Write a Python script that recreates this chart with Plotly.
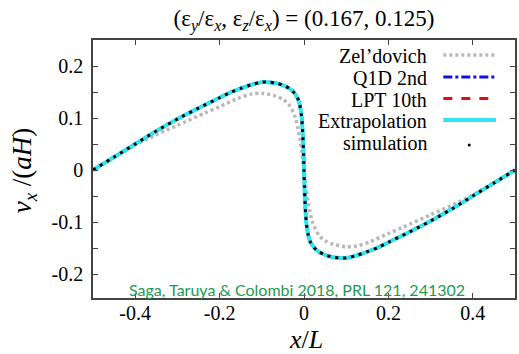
import plotly.graph_objects as go

# ---- data ----
x_main = [-0.5, -0.45, -0.4, -0.35, -0.3, -0.25, -0.2, -0.175, -0.15, -0.125, -0.1, -0.085,
          -0.066, -0.05, -0.035, -0.025, -0.015, -0.01, -0.006, -0.004, -0.002, -0.001, 0.0,
          0.001, 0.002, 0.004, 0.006, 0.01, 0.015, 0.025, 0.035, 0.05, 0.066, 0.085, 0.1,
          0.125, 0.15, 0.175, 0.2, 0.25, 0.3, 0.35, 0.4, 0.45, 0.5]
v_extrap = [0.0, 0.025, 0.050, 0.075, 0.098, 0.119, 0.139, 0.149, 0.157, 0.164, 0.169, 0.169,
            0.167, 0.163, 0.157, 0.150, 0.138, 0.125, 0.105, 0.085, 0.054, 0.03, 0.0,
            -0.03, -0.054, -0.085, -0.105, -0.125, -0.138, -0.150, -0.157, -0.163, -0.167, -0.169, -0.169,
            -0.164, -0.157, -0.149, -0.139, -0.119, -0.098, -0.075, -0.050, -0.025, 0.0]
v_q1d = [0.0, 0.025, 0.050, 0.075, 0.098, 0.119, 0.139, 0.149, 0.157, 0.164, 0.169, 0.169,
         0.167, 0.163, 0.157, 0.150, 0.138, 0.125, 0.105, 0.085, 0.054, 0.03, 0.0,
         -0.03, -0.054, -0.085, -0.105, -0.125, -0.138, -0.150, -0.157, -0.163, -0.167, -0.169, -0.169,
         -0.164, -0.157, -0.149, -0.139, -0.119, -0.098, -0.075, -0.050, -0.025, 0.0]
v_lpt10 = [0.0, 0.025, 0.050, 0.075, 0.098, 0.119, 0.139, 0.149, 0.157, 0.164, 0.169, 0.169,
           0.167, 0.163, 0.157, 0.150, 0.138, 0.125, 0.105, 0.085, 0.054, 0.03, 0.0,
           -0.03, -0.054, -0.085, -0.105, -0.125, -0.138, -0.150, -0.157, -0.163, -0.167, -0.169, -0.169,
           -0.164, -0.157, -0.149, -0.139, -0.119, -0.098, -0.075, -0.050, -0.025, 0.0]
v_sim = [0.0, 0.025, 0.050, 0.075, 0.098, 0.119, 0.139, 0.149, 0.157, 0.164, 0.169, 0.169,
         0.167, 0.163, 0.157, 0.150, 0.138, 0.125, 0.105, 0.085, 0.054, 0.03, 0.0,
         -0.03, -0.054, -0.085, -0.105, -0.125, -0.138, -0.150, -0.157, -0.163, -0.167, -0.169, -0.169,
         -0.164, -0.157, -0.149, -0.139, -0.119, -0.098, -0.075, -0.050, -0.025, 0.0]

x_zel = [-0.5, -0.45, -0.4, -0.35, -0.3, -0.234, -0.2, -0.156, -0.125, -0.1, -0.07, -0.05,
         -0.035, -0.02, -0.01, -0.005, 0.0, 0.005, 0.01, 0.02, 0.035, 0.05, 0.07, 0.1, 0.125,
         0.156, 0.2, 0.234, 0.3, 0.35, 0.4, 0.45, 0.5]
v_zel = [0.0, 0.024, 0.048, 0.068, 0.086, 0.11, 0.122, 0.138, 0.146, 0.1475, 0.143, 0.136,
         0.125, 0.1, 0.062, 0.033, 0.0, -0.033, -0.062, -0.1, -0.125, -0.136, -0.143, -0.1475, -0.146,
         -0.138, -0.122, -0.11, -0.086, -0.068, -0.048, -0.024, 0.0]

x_ticks = [-0.4, -0.2, 0, 0.2, 0.4]
x_ticklabels = ["-0.4", "-0.2", "0", "0.2", "0.4"]
y_ticks = [-0.2, -0.1, 0, 0.1, 0.2]
y_ticklabels = ["-0.2", "-0.1", "0", "0.1", "0.2"]
legend_names = ["Zel\u2019dovich", "Q1D 2nd", "LPT 10th", "Extrapolation", "simulation"]

SERIF = "Liberation Serif"
C_ZEL = "#b8b8b8"
C_Q1D = "#1010e0"
C_LPT = "#e01010"
C_EXT = "#30e4f0"
C_SIM = "#000000"

fig = go.Figure()
common = dict(mode="lines", line_shape="spline", showlegend=False, hoverinfo="skip")
fig.add_trace(go.Scatter(x=x_zel, y=v_zel, line=dict(color=C_ZEL, width=3.5, dash="3px,3px", smoothing=0.8), **common))
fig.add_trace(go.Scatter(x=x_main, y=v_q1d, line=dict(color=C_Q1D, width=3, dash="dashdot", smoothing=0.8), **common))
fig.add_trace(go.Scatter(x=x_main, y=v_lpt10, line=dict(color=C_LPT, width=3, dash="dash", smoothing=0.8), **common))
fig.add_trace(go.Scatter(x=x_main, y=v_extrap, line=dict(color=C_EXT, width=4, smoothing=0.8), **common))
fig.add_trace(go.Scatter(x=x_main, y=v_sim, line=dict(color=C_SIM, width=3, dash="3px,5px", smoothing=0.8), **common))

# ---- layout helpers (pixel -> paper) ----
L, R, T, B = 93, 517, 40, 298
W, H = 519, 354
def px(X):
    return (X - L) / (R - L)
def py(Y):
    return (B - Y) / (B - T)

row_y = [56, 78, 99.5, 121, 143]
samples = [
    dict(color=C_ZEL, width=3.5, dash="3px,3px"),
    dict(color=C_Q1D, width=3, dash="dashdot"),
    dict(color=C_LPT, width=3, dash="dash"),
    dict(color=C_EXT, width=4, dash="solid"),
    None,
]
annotations = []
shapes = []
for name, yy, s in zip(legend_names, row_y, samples):
    annotations.append(dict(x=px(431), y=py(yy), xref="paper", yref="paper", text=name,
                            showarrow=False, xanchor="right", yanchor="middle",
                            font=dict(family=SERIF, size=20, color="black")))
    if s is not None:
        shapes.append(dict(type="line", xref="paper", yref="paper", x0=px(445), x1=px(498),
                           y0=py(yy - 1), y1=py(yy - 1), line=s))
    else:
        shapes.append(dict(type="circle", xref="paper", yref="paper",
                           x0=px(469.5), x1=px(472.5), y0=py(yy + 3.5), y1=py(yy + 0.5),
                           fillcolor="black", line=dict(color="black", width=0)))

annotations.append(dict(x=px(298), y=py(289), xref="paper", yref="paper",
                        text="Saga, Taruya & Colombi 2018, PRL 121, 241302", showarrow=False,
                        xanchor="center", yanchor="middle",
                        font=dict(family="Lato", size=16, color="#1e9a52")))

# axis titles placed as annotations for precise placement
annotations.append(dict(x=px(307), y=py(339), xref="paper", yref="paper",
                        text="<i>x</i>/<i>L</i>", showarrow=False, xanchor="center", yanchor="middle",
                        font=dict(family=SERIF, size=26, color="black")))
annotations.append(dict(x=px(24), y=py(170), xref="paper", yref="paper",
                        text="<i>v<sub>x</sub></i> /(<i>aH</i>)", showarrow=False, textangle=-90,
                        xanchor="center", yanchor="middle",
                        font=dict(family=SERIF, size=27, color="black")))

axis_common = dict(showline=True, linecolor="#444", linewidth=1.5, mirror="ticks",
                   ticks="inside", ticklen=5, tickwidth=1, tickcolor="#444",
                   showgrid=False, zeroline=False,
                   tickfont=dict(family=SERIF, size=20, color="black"))

fig.update_layout(
    width=W, height=H,
    margin=dict(l=L, r=W - R, t=T, b=H - B),
    paper_bgcolor="white", plot_bgcolor="white",
    font=dict(family=SERIF, color="black"),
    title=dict(text="(\u03b5<sub><i>y</i></sub>/\u03b5<sub><i>x</i></sub>, \u03b5<sub><i>z</i></sub>/\u03b5<sub><i>x</i></sub>) = (0.167, 0.125)",
               x=0.5, xref="paper", xanchor="center", y=1 - 18 / H, yanchor="middle",
               font=dict(family=SERIF, size=23, color="black")),
    xaxis=dict(range=[-0.5, 0.5], tickvals=x_ticks, ticktext=x_ticklabels,
               ticklabelstandoff=-4, **axis_common),
    yaxis=dict(range=[-0.246, 0.25], tickvals=y_ticks, ticktext=y_ticklabels,
               ticklabelstandoff=4,
               minor=dict(dtick=0.05, ticks="inside", ticklen=5, tickcolor="#444"),
               **axis_common),
    annotations=annotations,
    shapes=shapes,
)

fig.write_html("out.html")
